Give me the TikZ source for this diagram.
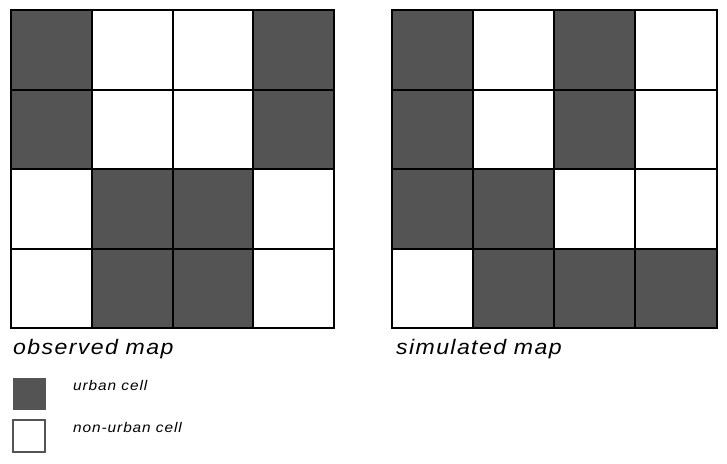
\documentclass[tikz,border=0pt]{standalone}
\usepackage{fontspec}
\setmainfont{Liberation Sans}
\newfontfamily\capfont[LetterSpace=6]{Liberation Sans}
\definecolor{urban}{HTML}{545454}
\newcommand{\widetext}[1]{\scalebox{1.1}[1]{#1}}
\begin{document}
\begin{tikzpicture}[x=1pt,y=-1pt,
  urbancell/.style={fill=urban},
  gridline/.style={line width=2pt,black},
  caption/.style={anchor=base west,inner sep=0pt,font=\capfont\fontsize{21}{25}\selectfont\itshape},
  legendtext/.style={anchor=base west,inner sep=0pt,font=\capfont\fontsize{14}{17}\selectfont\itshape}]
\useasboundingbox (0,0) rectangle (727,463);
% observed map
\def\ox{11}\def\oy{10}\def\cw{80.75}\def\ch{79.5}
\foreach \c/\r in {0/0,3/0,0/1,3/1,1/2,2/2,1/3,2/3}{
  \fill[urbancell] ({\ox+\c*\cw},{\oy+\r*\ch}) rectangle ++(\cw,\ch);
}
\foreach \i in {0,...,4}{
  \draw[gridline] ({\ox+\i*\cw},\oy) -- ++(0,{4*\ch});
  \draw[gridline] (\ox,{\oy+\i*\ch}) -- ++({4*\cw},0);
}
% simulated map
\def\sx{391.5}\def\sw{81.25}
\foreach \c/\r in {0/0,2/0,0/1,2/1,0/2,1/2,1/3,2/3,3/3}{
  \fill[urbancell] ({\sx+\c*\sw},{\oy+\r*\ch}) rectangle ++(\sw,\ch);
}
\foreach \i in {0,...,4}{
  \draw[gridline] ({\sx+\i*\sw},\oy) -- ++(0,{4*\ch});
  \draw[gridline] (\sx,{\oy+\i*\ch}) -- ++({4*\sw},0);
}
\draw[gridline,line cap=rect] (\ox,\oy) rectangle ++({4*\cw},{4*\ch});
\draw[gridline,line cap=rect] (\sx,\oy) rectangle ++({4*\sw},{4*\ch});
% captions
\node[caption] (obs) at (13,354) {\widetext{observed map}};
\node[caption] (sim) at (396,354) {\widetext{simulated map}};
% legend
\fill[urbancell] (13,377.5) rectangle (45.5,409.5);
\draw[line width=2pt,draw=urban,fill=white] (13.3,420) rectangle (45,451.5);
\node[legendtext] (lu) at (73,390.3) {\widetext{urban cell}};
\node[legendtext] (ln) at (73,432) {\widetext{non-urban cell}};
\end{tikzpicture}
\end{document}
